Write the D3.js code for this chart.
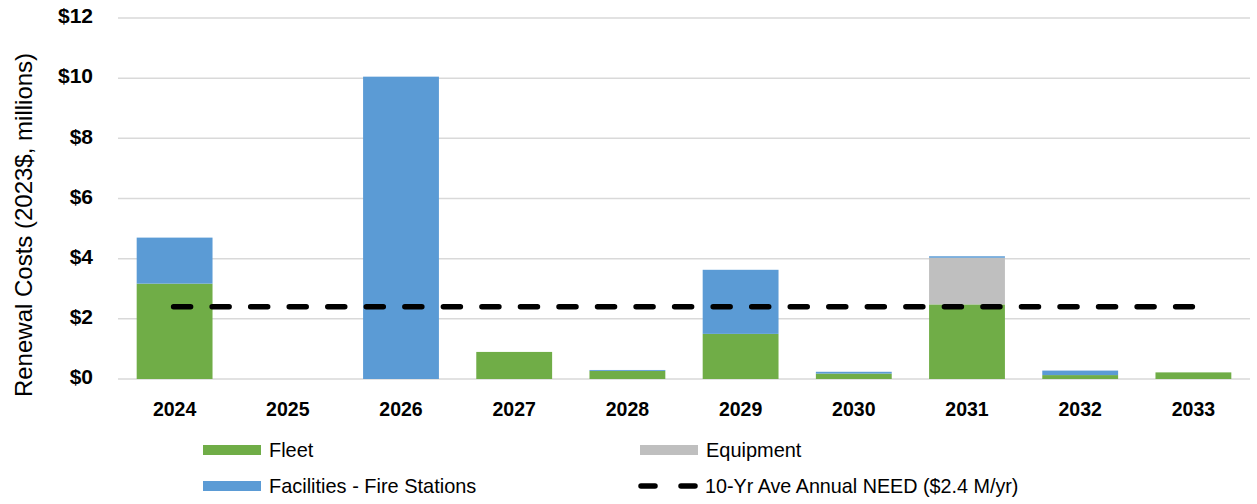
<!DOCTYPE html>
<html>
<head>
<meta charset="utf-8">
<script src="https://cdn.jsdelivr.net/npm/d3@7"></script>
<style>
  html, body { margin: 0; padding: 0; background: #fff; }
  svg { display: block; }
  text { font-family: "Liberation Sans", Arial, sans-serif; fill: #000; }
</style>
</head>
<body>
<svg id="chart" width="1257" height="504"></svg>
<script>
// Renewal costs by year, $ millions (2023$)
const years = ["2024", "2025", "2026", "2027", "2028", "2029", "2030", "2031", "2032", "2033"];
const fleet = [3.17, 0, 0, 0.9, 0.27, 1.5, 0.18, 2.48, 0.13, 0.22];
const equipment = [0, 0, 0, 0, 0, 0, 0, 1.55, 0, 0];
const facilities = [1.53, 0, 10.05, 0, 0.03, 2.13, 0.06, 0.05, 0.15, 0];
const averageNeed = 2.4;
const yTicks = [0, 2, 4, 6, 8, 10, 12];

const seriesNames = ["Fleet", "Equipment", "Facilities - Fire Stations"];
const seriesColors = ["#70ad47", "#bfbfbf", "#5b9bd5"];
const lineLabel = "10-Yr Ave Annual NEED ($2.4 M/yr)";

const svg = d3.select("#chart");
const margin = { left: 118, right: 7, top: 18, bottom: 125 };
const W = 1257, H = 504;

const x = d3.scaleBand().domain(years).range([margin.left, W - margin.right]).paddingInner(0.33).paddingOuter(0.165);
const y = d3.scaleLinear().domain([0, 12]).range([H - margin.bottom, margin.top]);

// squeeze text horizontally to a narrower face
function condense(sel, k) {
  sel.each(function () {
    const w = this.getComputedTextLength();
    d3.select(this).attr("textLength", w * k).attr("lengthAdjust", "spacingAndGlyphs");
  });
}

// gridlines
svg.append("g").selectAll("line").data(yTicks).join("line")
  .attr("x1", margin.left).attr("x2", W - margin.right)
  .attr("y1", d => y(d)).attr("y2", d => y(d))
  .attr("stroke", "#d9d9d9").attr("stroke-width", 1.5);

// y axis labels
const yAxis = d3.axisLeft(y).tickValues(yTicks).tickSize(0).tickPadding(0).tickFormat(d => "$" + d);
svg.append("g").attr("transform", `translate(${margin.left - 25},-2)`).call(yAxis)
  .call(g => g.select(".domain").remove())
  .selectAll("text").style("font-size", "21px").style("font-weight", "bold")
  .style("font-family", "'Liberation Sans', Arial, sans-serif");

// stacked bars
const rows = years.map((yr, i) => ({ year: yr, s0: fleet[i], s1: equipment[i], s2: facilities[i] }));
const stack = d3.stack().keys(["s0", "s1", "s2"]);
const layers = stack(rows);

svg.append("g").selectAll("g").data(layers).join("g")
  .attr("fill", (d, i) => seriesColors[i])
  .selectAll("rect").data(d => d).join("rect")
  .attr("x", d => x(d.data.year))
  .attr("width", x.bandwidth())
  .attr("y", d => y(d[1]))
  .attr("height", d => Math.max(0, y(d[0]) - y(d[1])));

// x axis labels
const xAxis = d3.axisBottom(x).tickSize(0).tickPadding(0);
svg.append("g").attr("transform", `translate(0,${y(0) + 30})`).call(xAxis)
  .call(g => g.select(".domain").remove())
  .selectAll("text").attr("dy", "0.35em").style("font-size", "21px").style("font-weight", "bold")
  .style("font-family", "'Liberation Sans', Arial, sans-serif")
  .call(condense, 0.93);

// average need line
svg.append("line")
  .attr("x1", x(years[0]) + x.bandwidth() / 2 - 1)
  .attr("x2", x(years[years.length - 1]) + x.bandwidth() / 2 - 1)
  .attr("y1", y(averageNeed)).attr("y2", y(averageNeed))
  .attr("stroke", "#000").attr("stroke-width", 5.5)
  .attr("stroke-linecap", "round").attr("stroke-dasharray", "17 21.54");

// y axis title
svg.append("text")
  .attr("transform", `translate(32,${225}) rotate(-90)`)
  .attr("text-anchor", "middle")
  .style("font-size", "24px")
  .text("Renewal Costs (2023$, millions)");

// legend
const legend = svg.append("g").style("font-size", "21px");
const legendItems = [
  { label: seriesNames[0], color: seriesColors[0], lx: 203, ly: 450 },
  { label: seriesNames[1], color: seriesColors[1], lx: 640, ly: 450 },
  { label: seriesNames[2], color: seriesColors[2], lx: 203, ly: 486 },
];
legendItems.forEach(it => {
  legend.append("rect").attr("x", it.lx).attr("y", it.ly - 5).attr("width", 58).attr("height", 10).attr("fill", it.color);
  legend.append("text").attr("x", it.lx + 66).attr("y", it.ly).attr("dy", "0.35em").text(it.label).call(condense, 0.95);
});
legend.append("line").attr("x1", 641).attr("x2", 695).attr("y1", 486).attr("y2", 486)
  .attr("stroke", "#000").attr("stroke-width", 5.5).attr("stroke-linecap", "round").attr("stroke-dasharray", "14 26");
legend.append("text").attr("x", 705).attr("y", 486).attr("dy", "0.35em").text(lineLabel).call(condense, 0.94);
</script>
</body>
</html>
